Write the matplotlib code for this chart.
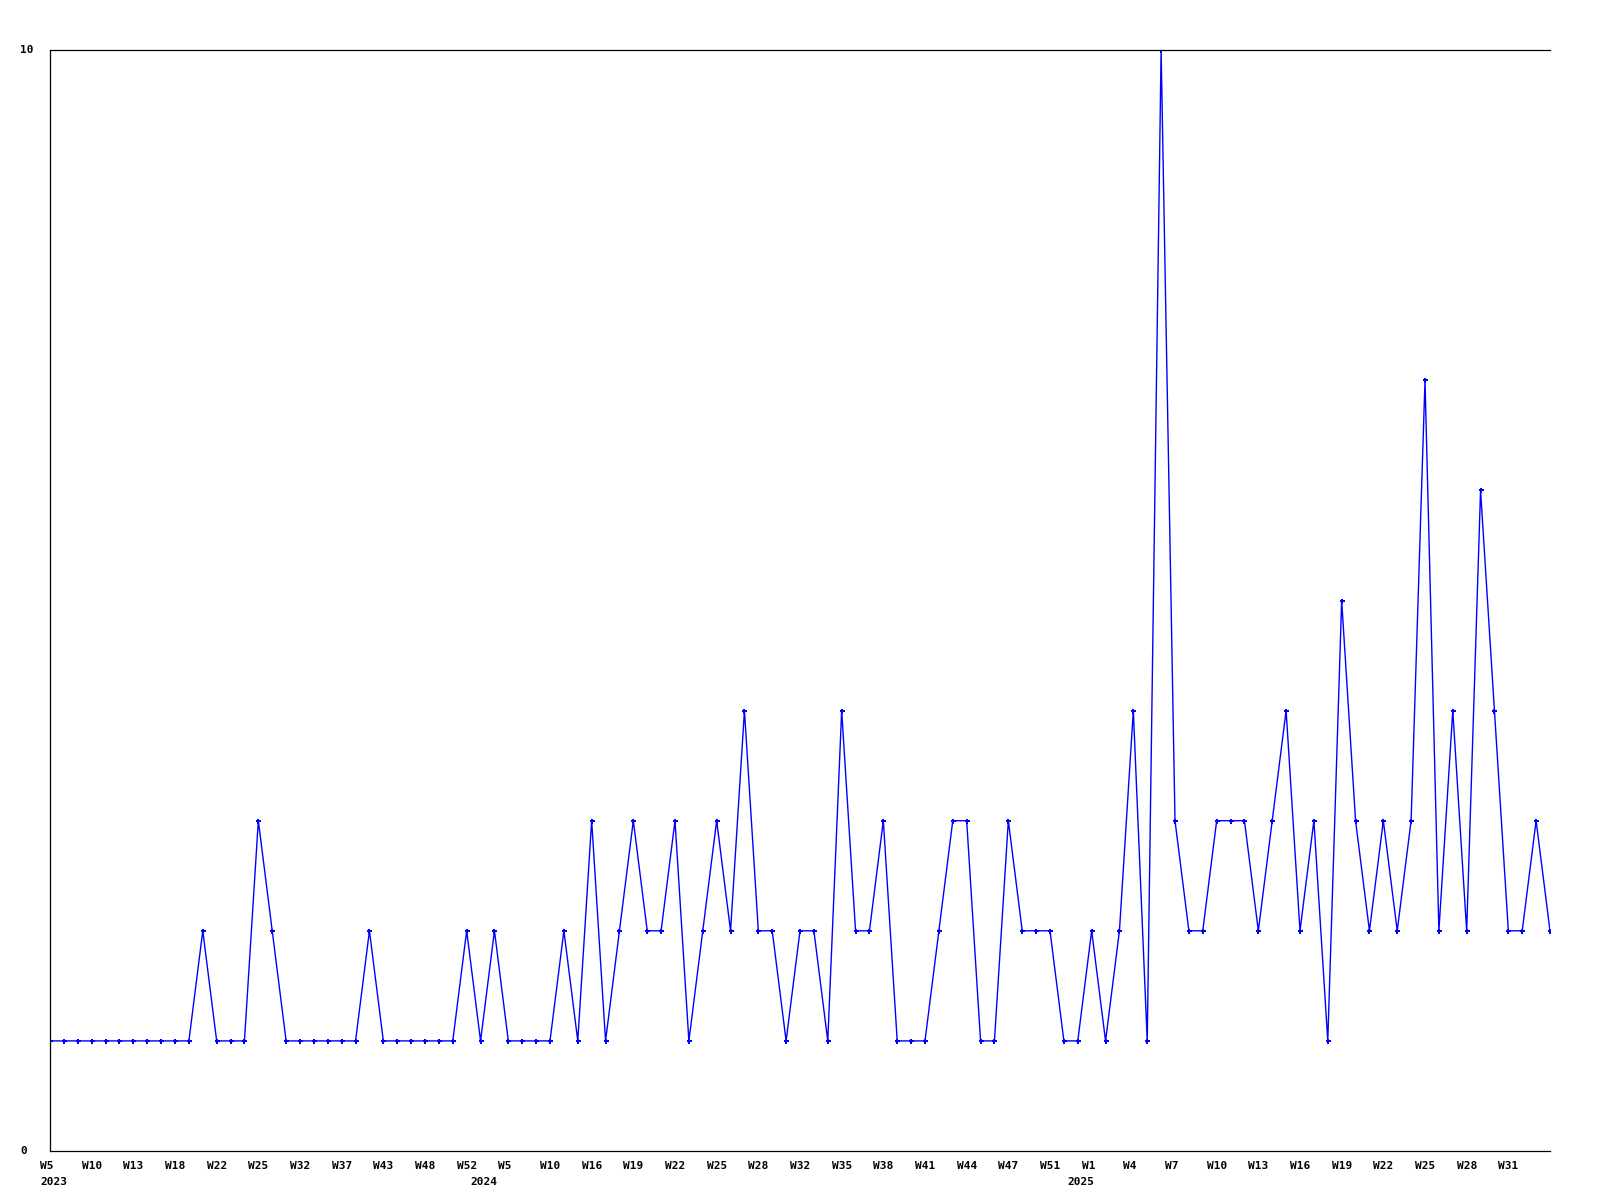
import matplotlib
matplotlib.use("Agg")
import matplotlib.pyplot as plt
from matplotlib.transforms import ScaledTranslation, blended_transform_factory

# Weekly values (sequential data points)
values = [1, 1, 1, 1, 1, 1, 1, 1, 1, 1, 1, 2, 1, 1, 1, 3, 2, 1, 1, 1,
          1, 1, 1, 2, 1, 1, 1, 1, 1, 1, 2, 1, 2, 1, 1, 1, 1, 2, 1, 3,
          1, 2, 3, 2, 2, 3, 1, 2, 3, 2, 4, 2, 2, 1, 2, 2, 1, 4, 2, 2,
          3, 1, 1, 1, 2, 3, 3, 1, 1, 3, 2, 2, 2, 1, 1, 2, 1, 2, 4, 1,
          10, 3, 2, 2, 3, 3, 3, 2, 3, 4, 2, 3, 1, 5, 3, 2, 3, 2, 3, 7,
          2, 4, 2, 6, 4, 2, 2, 3, 2]

# Week tick labels (every third data point)
week_labels = ["W5", "W10", "W13", "W18", "W22", "W25", "W32", "W37", "W43", "W48", "W52",
               "W5", "W10", "W16", "W19", "W22", "W25", "W28", "W32", "W35", "W38", "W41",
               "W44", "W47", "W51",
               "W1", "W4", "W7", "W10", "W13", "W16", "W19", "W22", "W25", "W28", "W31"]
week_label_step = 3

# Year labels and the data index where each year starts
year_labels = ["2023", "2024", "2025"]
year_index = [0, 31, 74]

y_ticks = [0, 10]

W, H, DPI = 1600, 1200, 100
fig = plt.figure(figsize=(W / DPI, H / DPI), dpi=DPI)
ax = fig.add_axes([50 / W, 1 - 1151 / H, 1500 / W, 1101 / H])

x = list(range(len(values)))
ax.plot(x, values, color="#0000ff", linewidth=1.0, marker="P",
        markersize=3.6, markeredgewidth=0, clip_on=True)

ax.set_xlim(0, len(values) - 1)
ax.set_ylim(0, 10)

for side in ["left", "bottom", "top"]:
    ax.spines[side].set_linewidth(0.9)
    ax.spines[side].set_color("black")
ax.spines["right"].set_visible(False)

font = dict(family="DejaVu Sans Mono", weight="bold", size=8)

# X ticks: week labels
tick_pos = [i * week_label_step for i in range(len(week_labels))]
ax.set_xticks(tick_pos)
ax.set_xticklabels(week_labels, **font)
ax.tick_params(axis="x", length=0, pad=7.5)
shift = ScaledTranslation(-10 / DPI, 0, fig.dpi_scale_trans)
for lab in ax.get_xticklabels():
    lab.set_horizontalalignment("left")
    lab.set_transform(lab.get_transform() + shift)

# Year labels in a second row
ytrans = ax.get_xaxis_transform() + ScaledTranslation(-10 / DPI, -26 / DPI, fig.dpi_scale_trans)
for lab, idx in zip(year_labels, year_index):
    ax.text(idx, 0, lab, transform=ytrans, ha="left", va="top", **font)

# Y labels, left-aligned near the figure edge
ax.set_yticks([])
ltrans = blended_transform_factory(fig.transFigure, ax.transData)
for v in y_ticks:
    ax.text(20 / W, v, str(v), transform=ltrans, ha="left", va="center", **font)

fig.savefig("out.png", dpi=DPI)
